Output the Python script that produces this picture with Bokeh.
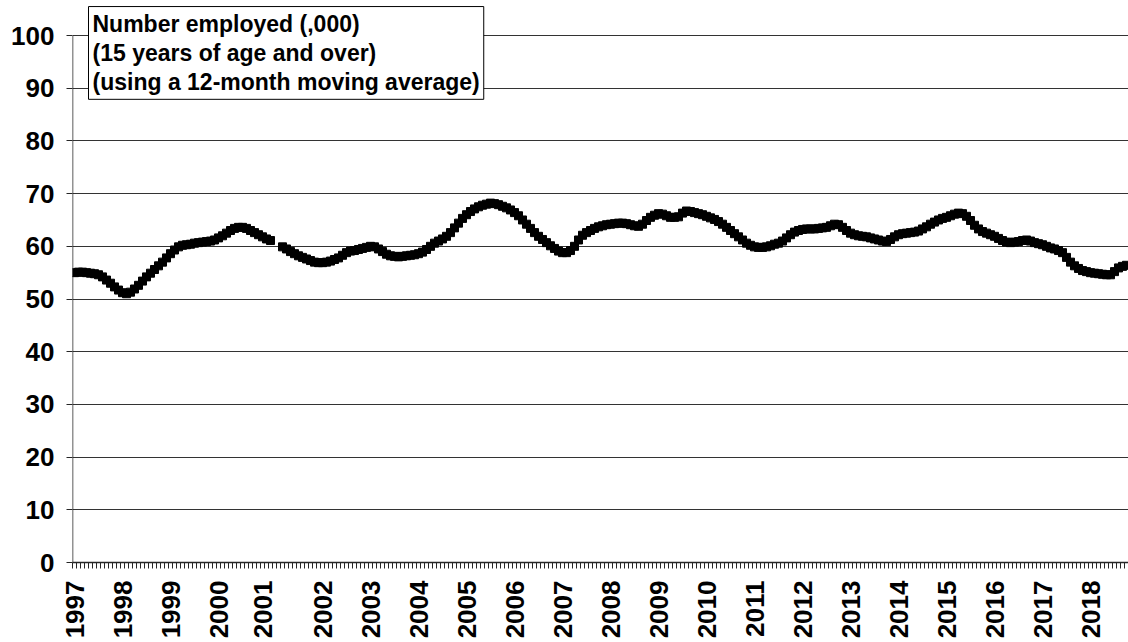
from math import pi, nan
from bokeh.plotting import figure
from bokeh.models import Range1d, FixedTicker, Label, ColumnDataSource
from bokeh.embed import file_html
from bokeh.resources import INLINE

# ---- data (12-month moving average, thousands employed) ----
years = ["1997", "1998", "1999", "2000", "2001", "2002", "2003", "2004", "2005",
         "2006", "2007", "2008", "2009", "2010", "2011", "2012", "2013", "2014",
         "2015", "2016", "2017", "2018"]
months_per_year = [12, 12, 12, 11, 15, 12, 12, 12, 12, 12, 12, 12, 12, 12, 12,
                   12, 12, 12, 12, 12, 12, 10]
employed = [
    # 1997
    55.0, 55.1, 55.1, 55.0, 54.9, 54.8, 54.6, 54.2, 53.6, 53.0, 52.3, 51.7,
    # 1998
    51.2, 51.0, 51.3, 51.9, 52.6, 53.4, 54.2, 54.9, 55.6, 56.3, 57.0, 57.8,
    # 1999
    58.6, 59.3, 59.9, 60.2, 60.3, 60.4, 60.6, 60.7, 60.8, 60.9, 61.0, 61.2,
    # 2000
    61.6, 62.0, 62.5, 63.0, 63.4, 63.6, 63.6, 63.4, 63.0, 62.6, 62.2,
    # 2001
    61.8, 61.4, 61.1, nan, nan, 59.9, 59.5, 59.0, 58.6, 58.2, 57.9, 57.6, 57.3, 57.0, 56.9,
    # 2002
    56.9, 57.0, 57.2, 57.5, 57.8, 58.3, 58.8, 59.1, 59.2, 59.4, 59.6, 59.8,
    # 2003
    60.0, 59.9, 59.5, 59.0, 58.5, 58.2, 58.1, 58.0, 58.1, 58.2, 58.3, 58.4,
    # 2004
    58.6, 58.9, 59.4, 60.0, 60.6, 61.0, 61.4, 61.9, 62.6, 63.5, 64.4, 65.3,
    # 2005
    66.0, 66.6, 67.1, 67.5, 67.8, 68.0, 68.2, 68.1, 67.9, 67.6, 67.3, 66.9,
    # 2006
    66.4, 65.8, 65.0, 64.2, 63.4, 62.6, 61.9, 61.3, 60.7, 60.1, 59.6, 59.1,
    # 2007
    58.8, 58.8, 59.2, 60.0, 61.2, 62.1, 62.6, 63.0, 63.4, 63.7, 63.9, 64.1,
    # 2008
    64.2, 64.3, 64.4, 64.4, 64.3, 64.1, 63.9, 63.8, 64.2, 64.9, 65.5, 65.9,
    # 2009
    66.2, 66.1, 65.8, 65.5, 65.5, 65.6, 66.3, 66.7, 66.6, 66.4, 66.2, 66.0,
    # 2010
    65.7, 65.4, 65.1, 64.7, 64.2, 63.6, 63.0, 62.4, 61.8, 61.2, 60.6, 60.2,
    # 2011
    59.9, 59.8, 59.8, 59.9, 60.1, 60.4, 60.6, 61.0, 61.6, 62.2, 62.7, 63.0,
    # 2012
    63.2, 63.3, 63.3, 63.3, 63.4, 63.5, 63.6, 63.9, 64.2, 64.1, 63.6, 63.0,
    # 2013
    62.5, 62.2, 62.0, 61.9, 61.8, 61.6, 61.4, 61.2, 61.0, 60.9, 61.3, 61.8,
    # 2014
    62.2, 62.4, 62.5, 62.6, 62.7, 62.9, 63.3, 63.7, 64.2, 64.6, 65.0, 65.3,
    # 2015
    65.5, 65.8, 66.1, 66.3, 66.2, 65.7, 64.9, 64.0, 63.3, 62.8, 62.5, 62.2,
    # 2016
    61.9, 61.5, 61.1, 60.8, 60.7, 60.8, 60.9, 61.1, 61.2, 61.0, 60.7, 60.5,
    # 2017
    60.3, 60.0, 59.7, 59.5, 59.2, 58.8, 57.9, 57.0, 56.3, 55.8, 55.4, 55.2,
    # 2018
    55.0, 54.9, 54.8, 54.7, 54.6, 54.6, 55.2, 55.9, 56.2, 56.4,
]
y_ticks = [0, 10, 20, 30, 40, 50, 60, 70, 80, 90, 100]
title_lines = ["Number employed (,000)", "(15 years of age and over)",
               "(using a 12-month moving average)"]

# ---- derived positions ----
n = len(employed)
idx = list(range(n))
label_pos = []
acc = 0
for c in months_per_year:
    label_pos.append(acc)
    acc += c

FONT = "Liberation Sans"
AXIS_COLOR = "#262626"

p = figure(width=1128, height=642, output_backend="svg", toolbar_location=None,
           x_range=Range1d(-0.5, n - 0.5), y_range=Range1d(0, 105.7),
           min_border_left=72, min_border_right=0, min_border_top=5,
           min_border_bottom=80)
p.outline_line_color = None
p.background_fill_color = "white"

# y axis line only from 0 to 100
p.segment(x0=[-0.5], y0=[y_ticks[0]], x1=[-0.5], y1=[y_ticks[-1]],
          line_color=AXIS_COLOR, line_width=1.5)

src = ColumnDataSource(dict(x=idx, y=employed))
p.line("x", "y", source=src, line_color="black", line_width=4)
p.scatter("x", "y", source=src, marker="square", size=8, fill_color="black",
          line_color="black")

# y axis
p.yaxis.ticker = FixedTicker(ticks=y_ticks)
p.yaxis.axis_line_color = None
p.yaxis.major_tick_line_color = AXIS_COLOR
p.yaxis.major_tick_out = 6
p.yaxis.major_tick_in = 0
p.yaxis.minor_tick_line_color = None
p.yaxis.major_label_text_font = FONT
p.yaxis.major_label_text_font_style = "bold"
p.yaxis.major_label_text_font_size = "26px"
p.yaxis.major_label_text_color = "black"
p.yaxis.major_label_standoff = 12

# x axis
p.xaxis.ticker = FixedTicker(ticks=label_pos,
                             minor_ticks=[i - 0.5 for i in range(n + 1)])
p.xaxis.major_label_overrides = {pos: yr for pos, yr in zip(label_pos, years)}
p.xaxis.major_tick_line_color = None
p.xaxis.major_tick_out = 0
p.xaxis.minor_tick_out = 6
p.xaxis.minor_tick_in = 0
p.xaxis.minor_tick_line_color = AXIS_COLOR
p.xaxis.axis_line_color = AXIS_COLOR
p.xaxis.axis_line_width = 1.5
p.xaxis.major_label_orientation = pi / 2
p.xaxis.major_label_text_font = FONT
p.xaxis.major_label_text_font_style = "bold"
p.xaxis.major_label_text_font_size = "26px"
p.xaxis.major_label_text_color = "black"
p.xaxis.major_label_standoff = 12

p.xgrid.grid_line_color = None
p.ygrid.ticker = FixedTicker(ticks=y_ticks[1:])
p.ygrid.grid_line_color = "#333333"
p.ygrid.grid_line_width = 1

box = Label(x=3.5, y=105.5, text="\n".join(title_lines),
            text_font=FONT, text_font_style="bold", text_font_size="23px",
            text_color="black", text_align="left", text_baseline="top",
            text_line_height=1.13,
            background_fill_color="white", border_line_color="black",
            border_line_width=1, padding=4)
p.add_layout(box)

open("out.html", "w").write(file_html(p, INLINE))
